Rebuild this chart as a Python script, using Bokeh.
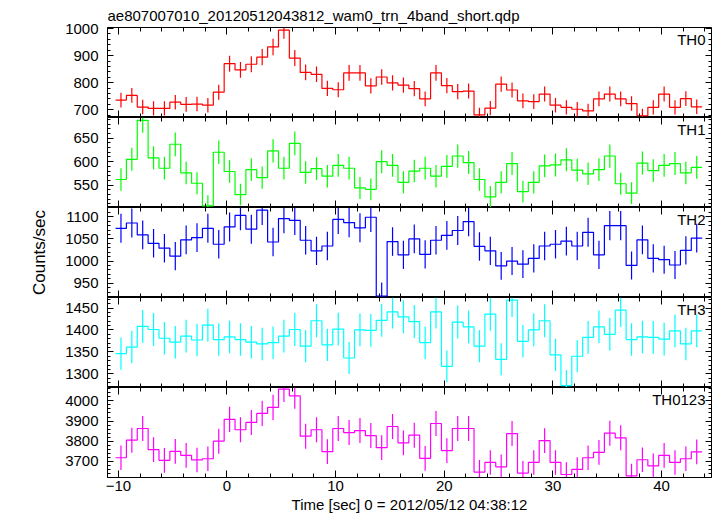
import numpy as np
from bokeh.plotting import figure
from bokeh.models import (Range1d, LinearAxis, SingleIntervalTicker, Label,
                          CustomLabelingPolicy, Title)
from bokeh.layouts import column
from bokeh.embed import file_html
from bokeh.resources import INLINE

# ---- data (1-s bins, counts/sec) ----
time_s = [-9.76, -8.76, -7.76, -6.76, -5.76, -4.76, -3.76, -2.76, -1.76, -0.76,
          0.24, 1.24, 2.24, 3.24, 4.24, 5.24, 6.24, 7.24, 8.24, 9.24,
          10.24, 11.24, 12.24, 13.24, 14.24, 15.24, 16.24, 17.24, 18.24, 19.24,
          20.24, 21.24, 22.24, 23.24, 24.24, 25.24, 26.24, 27.24, 28.24, 29.24,
          30.24, 31.24, 32.24, 33.24, 34.24, 35.24, 36.24, 37.24, 38.24, 39.24,
          40.24, 41.24, 42.24, 43.24]

th0 = [736, 753, 710, 705, 705, 728, 720, 721, 717, 765,
       870, 847, 868, 894, 932, 994, 891, 838, 831, 779,
       774, 836, 836, 788, 821, 799, 791, 778, 740, 836,
       789, 767, 769, 681, 706, 795, 773, 733, 730, 758,
       717, 709, 702, 696, 740, 758, 740, 723, 678, 709,
       758, 709, 741, 711]
th1 = [562, 605, 688, 608, 586, 637, 576, 554, 506, 620,
       579, 530, 583, 566, 623, 586, 639, 577, 585, 569,
       592, 586, 544, 541, 600, 592, 556, 580, 586, 569,
       590, 612, 598, 562, 525, 556, 596, 536, 556, 591,
       593, 604, 582, 574, 583, 612, 553, 533, 597, 581,
       592, 596, 576, 588]
th2 = [1074, 1086, 1059, 1040, 1029, 1011, 1048, 1053, 1074, 1038,
       1077, 1103, 1072, 1115, 1043, 1096, 1092, 1047, 1023, 1034,
       1094, 1087, 1075, 1099, 921, 1044, 1014, 1050, 1015, 1047,
       1058, 1069, 1089, 1033, 1023, 989, 1000, 993, 1006, 1034,
       1038, 1045, 1034, 1065, 1014, 1080, 1080, 990, 1048, 1006,
       1003, 991, 1024, 1052]
th3 = [1346, 1361, 1408, 1401, 1381, 1372, 1386, 1377, 1411, 1378,
       1384, 1378, 1372, 1368, 1371, 1386, 1401, 1363, 1421, 1366,
       1402, 1336, 1400, 1399, 1422, 1441, 1430, 1419, 1371, 1441,
       1317, 1418, 1407, 1363, 1436, 1333, 1468, 1374, 1400, 1421,
       1343, 1273, 1340, 1383, 1407, 1390, 1445, 1378, 1384, 1383,
       1379, 1398, 1368, 1398]
th0123 = [3718, 3805, 3863, 3758, 3705, 3750, 3730, 3707, 3713, 3800,
          3908, 3857, 3893, 3938, 3968, 4058, 4025, 3825, 3857, 3748,
          3863, 3843, 3853, 3828, 3768, 3873, 3792, 3830, 3715, 3888,
          3753, 3863, 3863, 3647, 3695, 3673, 3838, 3642, 3695, 3803,
          3695, 3635, 3660, 3718, 3745, 3840, 3817, 3628, 3708, 3678,
          3730, 3695, 3713, 3747]

band_names = ["TH0", "TH1", "TH2", "TH3", "TH0123"]
band_colors = ["#ff0000", "#00ff00", "#0000ff", "#00ffff", "#ff00ff"]
band_ylims = [(671.5, 1003.7), (502.4, 694.0), (917.6, 1121.0), (1268.7, 1474.0), (3620.0, 4066.5)]
band_tick_step = [100, 50, 50, 50, 100]
band_values = [th0, th1, th2, th3, th0123]

title_text = "ae807007010_20120512043812_wam0_trn_4band_short.qdp"
xlabel = "Time [sec] 0 = 2012/05/12 04:38:12"
ylabel = "Counts/sec"

FONT = "Liberation Sans"
X0, X1 = -11.0, 44.6
x_range = Range1d(X0, X1)

FRAME_W = 604
FRAME_H = 90
LEFT = 107
RIGHT = 6
TOP = 27
BOTTOM = 39


def no_labels():
    return CustomLabelingPolicy(code="""
        for (const i of Array.from(indices)) { indices.unset(i) }
        return indices
    """)


def style_axis(ax, tick_in, minor_in, show_labels):
    ax.axis_line_color = "black"
    ax.axis_line_width = 1
    ax.major_tick_line_color = "black"
    ax.minor_tick_line_color = "black"
    ax.major_tick_in = tick_in
    ax.major_tick_out = 0
    ax.minor_tick_in = minor_in
    ax.minor_tick_out = 0
    ax.major_label_text_font = FONT
    ax.major_label_text_color = "black"
    ax.axis_label_text_color = "black"
    if show_labels:
        ax.major_label_text_font_size = "15px"
    else:
        ax.major_label_text_font_size = "1px"
        ax.major_label_standoff = 0
        ax.major_label_policy = no_labels()


figs = []
n = len(band_names)
t = np.array(time_s, dtype=float)
for k in range(n):
    first = k == 0
    last = k == n - 1
    y0, y1 = band_ylims[k]
    h = FRAME_H + (TOP if first else 0) + (BOTTOM if last else 0)
    kw = {}
    if first:
        kw["title"] = Title(text=title_text, text_font=FONT, text_font_size="15px",
                            text_font_style="normal", align="left", standoff=7,
                            text_color="black")
    p = figure(x_range=x_range, y_range=Range1d(y0, y1),
               width=LEFT + FRAME_W + RIGHT, height=h,
               output_backend="svg", toolbar_location=None,
               min_border_left=LEFT, min_border_right=RIGHT,
               min_border_top=TOP if first else 0,
               min_border_bottom=BOTTOM if last else 0,
               background_fill_color="white", border_fill_color="white", **kw)
    p.grid.visible = False
    p.outline_line_color = "black"
    p.outline_line_width = 1

    xt = SingleIntervalTicker(interval=10, num_minor_ticks=5)
    yt = SingleIntervalTicker(interval=band_tick_step[k], num_minor_ticks=5)
    bottom_ax = p.below[0]
    left_ax = p.left[0]
    bottom_ax.ticker = xt
    left_ax.ticker = yt
    if not last:
        bottom_ax.fixed_location = y0
    top_ax = LinearAxis(ticker=xt, fixed_location=y1)
    right_ax = LinearAxis(ticker=yt, fixed_location=X1)
    p.add_layout(top_ax, "above")
    p.add_layout(right_ax, "right")

    style_axis(bottom_ax, 7, 4, last)
    style_axis(top_ax, 7, 4, False)
    style_axis(left_ax, 6, 3, True)
    style_axis(right_ax, 6, 3, False)
    left_ax.major_label_standoff = 9

    if last:
        bottom_ax.major_label_standoff = 3
        bottom_ax.axis_label = xlabel
        bottom_ax.axis_label_text_font = FONT
        bottom_ax.axis_label_text_font_size = "15px"
        bottom_ax.axis_label_text_font_style = "normal"
        bottom_ax.axis_label_standoff = 2
    if k == 2:
        left_ax.axis_label = ylabel
        left_ax.axis_label_text_font = FONT
        left_ax.axis_label_text_font_size = "17px"
        left_ax.axis_label_text_font_style = "normal"
        left_ax.axis_label_standoff = 13

    v = np.array(band_values[k], dtype=float)
    err = np.sqrt(v)
    edges = np.append(t - 0.5, t[-1] + 0.5)
    ys = np.append(v, v[-1])
    color = band_colors[k]
    p.step(edges, ys, mode="after", line_color=color, line_width=1.2)
    p.segment(t, v - err, t, v + err, line_color=color, line_width=1.2)

    p.add_layout(Label(x=44.05, y=y1, text=band_names[k], text_align="right",
                       text_baseline="top", y_offset=-3, text_font=FONT,
                       text_font_size="15px", text_color="black"))
    figs.append(p)

layout = column(*figs, spacing=0)
open("out.html", "w").write(file_html(layout, INLINE))
